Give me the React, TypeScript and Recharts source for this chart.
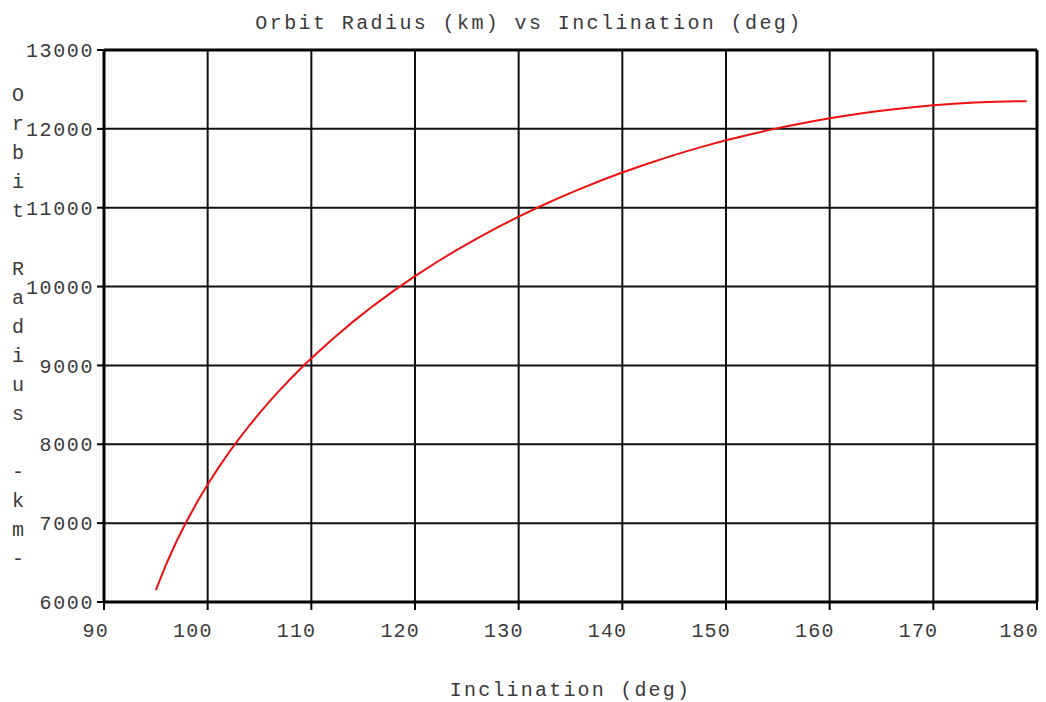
import {
  CartesianGrid,
  Line,
  LineChart,
  ReferenceLine,
  XAxis,
  YAxis,
} from "recharts";

const inclination = [
  95, 96, 97, 98, 99, 100, 101, 102, 103, 104, 105, 106, 107, 108, 109, 110,
  112, 114, 116, 118, 120, 122, 124, 126, 128, 130, 132, 134, 136, 138, 140,
  142, 144, 146, 148, 150, 152, 154, 156, 158, 160, 162, 164, 166, 168, 170,
  172, 174, 176, 178, 179,
];
const radius = [
  6151, 6479, 6770, 7031, 7270, 7490, 7695, 7886, 8065, 8235, 8395, 8547,
  8693, 8831, 8964, 9091, 9330, 9552, 9759, 9952, 10133, 10302, 10462, 10612,
  10753, 10887, 11012, 11131, 11242, 11348, 11446, 11539, 11626, 11708, 11784,
  11855, 11920, 11981, 12037, 12088, 12135, 12176, 12213, 12246, 12274, 12298,
  12318, 12333, 12343, 12350, 12351,
];
const xTicks = [90, 100, 110, 120, 130, 140, 150, 160, 170, 180];
const yTicks = [6000, 7000, 8000, 9000, 10000, 11000, 12000, 13000];

const title = "Orbit Radius (km) vs Inclination (deg)";
const xTitle = "Inclination (deg)";
const yTitle = "Orbit Radius -km-";

const data = inclination.map((inc, i) => ({ inc, radius: radius[i] }));

const font = "'Liberation Mono', 'Courier New', monospace";
const textColor = "#3a3a3a";

const XTick = ({ x, y, payload }: any) => (
  <text
    x={x + 5}
    y={y}
    dy={15}
    textAnchor="end"
    fill={textColor}
    fontFamily={font}
    fontSize={20}
    letterSpacing={1.2}
  >
    {payload.value}
  </text>
);

const YTitle = () => (
  <g>
    {yTitle.split("").map((ch, i) => (
      <text
        key={i}
        x={18}
        y={95 + i * 29}
        textAnchor="middle"
        dominantBaseline="central"
        fill={textColor}
        fontFamily={font}
        fontSize={20}
      >
        {ch === " " ? "" : ch}
      </text>
    ))}
  </g>
);

export default function App() {
  return (
    <div style={{ position: "absolute", left: 0, top: 0, background: "#fff" }}>
      <div
        style={{
          position: "absolute",
          left: 6,
          top: 12,
          width: 1046,
          textAlign: "center",
          fontFamily: font,
          fontSize: 20,
          letterSpacing: 2.4,
          color: textColor,
          lineHeight: "24px",
        }}
      >
        {title}
      </div>
      <LineChart
        width={1046}
        height={702}
        data={data}
        margin={{ top: 50, right: 9, bottom: 70, left: 44 }}
      >
        <CartesianGrid stroke="#111" strokeWidth={2} />
        <XAxis
          type="number"
          dataKey="inc"
          domain={[90, 180]}
          ticks={xTicks}
          height={30}
          tickSize={8}
          tickMargin={12}
          tick={<XTick />}
          axisLine={{ stroke: "#000", strokeWidth: 3 }}
          tickLine={{ stroke: "#000", strokeWidth: 2 }}
          label={{
            value: xTitle,
            position: "bottom",
            offset: 50,
            fill: textColor,
            fontFamily: font,
            fontSize: 20,
            letterSpacing: 2.2,
          }}
        />
        <YAxis
          type="number"
          domain={[6000, 13000]}
          ticks={yTicks}
          width={60}
          tickSize={7}
          tickMargin={3}
          tick={{
            fill: textColor,
            fontFamily: font,
            fontSize: 20,
            letterSpacing: 1.6,
          }}
          axisLine={{ stroke: "#000", strokeWidth: 3 }}
          tickLine={{ stroke: "#000", strokeWidth: 2 }}
          label={{ content: <YTitle /> }}
        />
        <ReferenceLine x={180} stroke="#000" strokeWidth={3} />
        <ReferenceLine y={13000} stroke="#000" strokeWidth={3} />
        <Line
          type="linear"
          dataKey="radius"
          stroke="#ee1111"
          strokeWidth={2}
          dot={false}
          isAnimationActive={false}
        />
      </LineChart>
    </div>
  );
}
